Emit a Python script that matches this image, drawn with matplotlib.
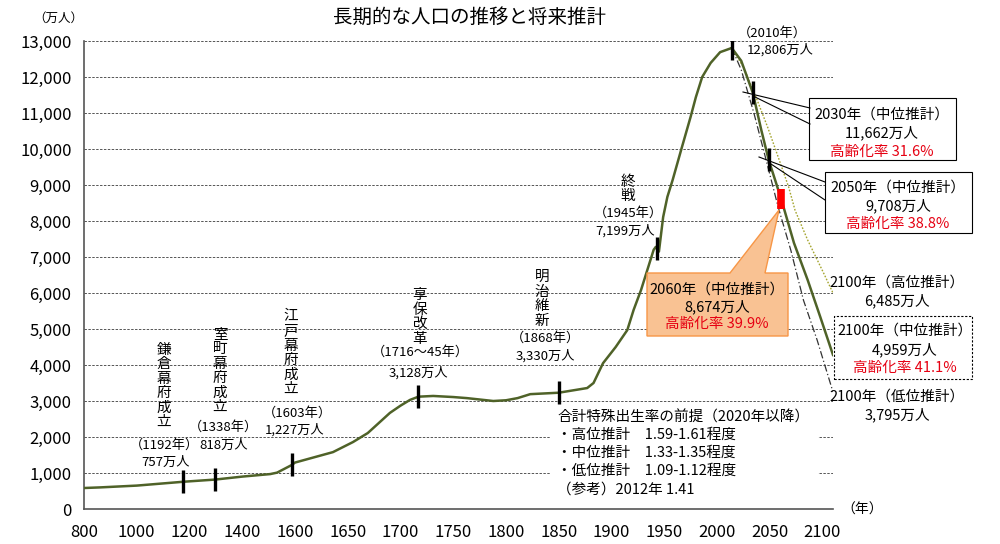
import numpy as np
import matplotlib.pyplot as plt
from matplotlib.patches import Rectangle, Polygon

plt.rcParams['font.family'] = ['Noto Sans CJK JP', 'DejaVu Sans']

W, H = 1000, 544

# x axis ticks are equally spaced on the chart although the years are not
tick_years = [800, 1000, 1200, 1400, 1600, 1650, 1700, 1750, 1800, 1850,
              1900, 1950, 2000, 2050, 2100]
y_ticks = list(range(0, 13001, 1000))

# population (万人), years as read on the chart axis
hist_years = [800, 861, 1000, 1177, 1298, 1400, 1506, 1532, 1589, 1600, 1636,
              1655, 1669, 1690, 1700, 1709, 1717, 1731, 1750, 1763, 1788, 1800,
              1811, 1823, 1850, 1877, 1883, 1892, 1904, 1915, 1921, 1928, 1934,
              1940, 1942, 1945, 1949, 1953, 1958, 1966, 1975, 1980, 1986, 1994,
              2003, 2014]
hist_pop = [583, 600, 650, 757, 818, 900, 970, 1010, 1227, 1290, 1580,
            1860, 2110, 2670, 2870, 3030, 3120, 3140, 3110, 3080, 3000, 3020,
            3080, 3190, 3230, 3360, 3500, 4050, 4500, 4970, 5530, 6080, 6640,
            7200, 7280, 7150, 8110, 8670, 9140, 9970, 10890, 11440, 12000, 12390,
            12690, 12806]

mid_years = [2014, 2023, 2034, 2042, 2049, 2061, 2073, 2086, 2098, 2110]
mid_pop = [12806, 12450, 11560, 10530, 9700, 8600, 7390, 6360, 5330, 4280]

high_years = [2014, 2025, 2037, 2048, 2058, 2068, 2074, 2086, 2101, 2110]
high_pop = [12806, 12280, 11440, 10610, 9780, 8940, 8300, 7470, 6560, 6000]

low_years = [2014, 2023, 2035, 2047, 2058, 2070, 2082, 2095, 2110]
low_pop = [12806, 12200, 11000, 9650, 8390, 7190, 5800, 4690, 3250]

# event markers (positions on the axis)
marker_x = [1177, 1298, 1589, 1717, 1850, 1943, 2014, 2034, 2049]
red_marker_x = 2061

map_years = [600] + tick_years + [2150]
map_pos = list(range(-1, len(tick_years) + 1))


def fwd(x):
    return np.interp(x, map_years, map_pos)


def inv(p):
    return np.interp(p, map_pos, map_years)


fig = plt.figure(figsize=(W / 100, H / 100), dpi=100)
ax = fig.add_axes([84 / W, 1 - 509 / H, (833 - 84) / W, (509 - 41) / H])
ax.set_xscale('function', functions=(fwd, inv))
ax.set_xlim(800, 2110)
ax.set_ylim(0, 13000)

ax.set_xticks(tick_years)
ax.set_xticklabels([str(t) for t in tick_years], fontsize=12)
ax.set_yticks(y_ticks)
ax.set_yticklabels([f'{v:,}' for v in y_ticks], fontsize=12)
ax.tick_params(length=0, pad=9)
ax.tick_params(axis='x', pad=11)
for v in y_ticks[1:]:
    ax.axhline(v, color='#555555', lw=0.7, ls=(0, (2.5, 1.5)), zorder=1)
for s in ['top', 'right']:
    ax.spines[s].set_visible(False)
for s in ['left', 'bottom']:
    ax.spines[s].set_color('#555555')
    ax.spines[s].set_linewidth(1.2)

green = '#4F6228'
ax.plot(hist_years, hist_pop, color=green, lw=1.8, zorder=3)
ax.plot(high_years, high_pop, color='#A5A530', lw=1.0, ls=(0, (1.2, 1.2)), zorder=3)
ax.plot(low_years, low_pop, color='#333333', lw=0.9, ls=(0, (6, 2, 1, 2)), zorder=3)
ax.plot(mid_years, mid_pop, color=green, lw=1.8, zorder=4)

curve_x = hist_years + mid_years[1:]
curve_y = hist_pop + mid_pop[1:]
for mx in marker_x:
    my = np.interp(mx, curve_x, curve_y)
    ax.plot([mx, mx], [my - 320, my + 320], color='black', lw=2.4,
            solid_capstyle='butt', zorder=5)
ry = np.interp(red_marker_x, curve_x, curve_y)
ax.plot([red_marker_x, red_marker_x], [ry - 280, ry + 280], color='#FF0000',
        lw=5.5, solid_capstyle='butt', zorder=5)


def ftxt(x, y, s, size=10, color='black', ha='center', **kw):
    fig.text(x / W, 1 - y / H, s, fontsize=size, color=color, ha=ha,
             va='center', **kw)


def frect(x0, y0, x1, y1, **kw):
    fig.add_artist(Rectangle((x0 / W, 1 - y1 / H), (x1 - x0) / W, (y1 - y0) / H,
                             transform=fig.transFigure, **kw))


def fline(x0, y0, x1, y1):
    fig.add_artist(plt.Line2D([x0 / W, x1 / W], [1 - y0 / H, 1 - y1 / H],
                              transform=fig.transFigure, color='black', lw=0.8))


red = '#E60012'

ftxt(470, 17, '長期的な人口の推移と将来推計', size=14)
ftxt(58, 18, '（万人）', size=9)
ftxt(862, 510, '（年）', size=10)

# historical events
ls = 1.05
ftxt(164, 386, '\n'.join('鎌倉幕府成立'), size=10.5, linespacing=ls)
ftxt(164, 445, '（1192年）', size=9.5)
ftxt(166, 462, '757万人', size=9.5)
ftxt(220, 371, '\n'.join('室町幕府成立'), size=10.5, linespacing=ls)
ftxt(223, 427, '（1338年）', size=9.5)
ftxt(224, 445, '818万人', size=9.5)
ftxt(291, 353, '\n'.join('江戸幕府成立'), size=10.5, linespacing=ls)
ftxt(297, 413, '（1603年）', size=9.5)
ftxt(295, 430, '1,227万人', size=9.5)
ftxt(420, 317, '\n'.join('享保改革'), size=10.5, linespacing=ls)
ftxt(420, 352, '（1716～45年）', size=9.5)
ftxt(418, 373, '3,128万人', size=9.5)
ftxt(542, 299, '\n'.join('明治維新'), size=10.5, linespacing=ls)
ftxt(545, 338, '（1868年）', size=9.5)
ftxt(545, 356, '3,330万人', size=9.5)
ftxt(628, 189, '\n'.join('終戦'), size=10.5, linespacing=ls)
ftxt(628, 213, '（1945年）', size=9.5)
ftxt(625, 231, '7,199万人', size=9.5)
ftxt(772, 33, '（2010年）', size=9.5)
ftxt(780, 50, '12,806万人', size=9.5)

# 2030 / 2050 boxes
fline(743, 92, 810, 108)
fline(753, 96, 810, 124)
frect(809, 98, 956, 160, facecolor='white', edgecolor='black', lw=0.8)
ftxt(882, 115, '2030年（中位推計）', size=10.5)
ftxt(882, 133, '11,662万人', size=10.5)
ftxt(882, 152, '高齢化率 31.6%', size=10.5, color=red)

fline(759, 157, 825, 182)
fline(768, 162, 825, 200)
frect(825, 172, 972, 233, facecolor='white', edgecolor='black', lw=0.8)
ftxt(898, 188, '2050年（中位推計）', size=10.5)
ftxt(898, 206, '9,708万人', size=10.5)
ftxt(898, 224, '高齢化率 38.8%', size=10.5, color=red)

# 2060 orange callout
pts = [(647, 273), (730, 273), (779, 210), (765, 273), (788, 273),
       (788, 336), (647, 336)]
fig.add_artist(Polygon([(x / W, 1 - y / H) for x, y in pts], closed=True,
                       transform=fig.transFigure, facecolor='#F9C293',
                       edgecolor='#F79646', lw=1.0))
ftxt(717, 290, '2060年（中位推計）', size=10.5)
ftxt(717, 307, '8,674万人', size=10.5)
ftxt(717, 324, '高齢化率 39.9%', size=10.5, color=red)

# 2100 labels
ftxt(897, 283, '2100年（高位推計）', size=10.5)
ftxt(897, 301, '6,485万人', size=10.5)
frect(834, 316, 972, 379, facecolor='white', edgecolor='black', lw=0.8,
      ls=(0, (2, 1.5)))
ftxt(905, 331, '2100年（中位推計）', size=10.5)
ftxt(905, 350, '4,959万人', size=10.5)
ftxt(905, 368, '高齢化率 41.1%', size=10.5, color=red)
ftxt(897, 397, '2100年（低位推計）', size=10.5)
ftxt(897, 415, '3,795万人', size=10.5)

# fertility assumptions
frect(550, 406, 818, 500, facecolor='white', edgecolor='none')
ftxt(557, 417, '合計特殊出生率の前提（2020年以降）', size=10.5, ha='left')
ftxt(557, 435, '・高位推計　1.59-1.61程度', size=10.5, ha='left')
ftxt(557, 453, '・中位推計　1.33-1.35程度', size=10.5, ha='left')
ftxt(557, 471, '・低位推計　1.09-1.12程度', size=10.5, ha='left')
ftxt(557, 490, '（参考）2012年 1.41', size=10.5, ha='left')

fig.savefig('out.png', dpi=100, facecolor='white')
